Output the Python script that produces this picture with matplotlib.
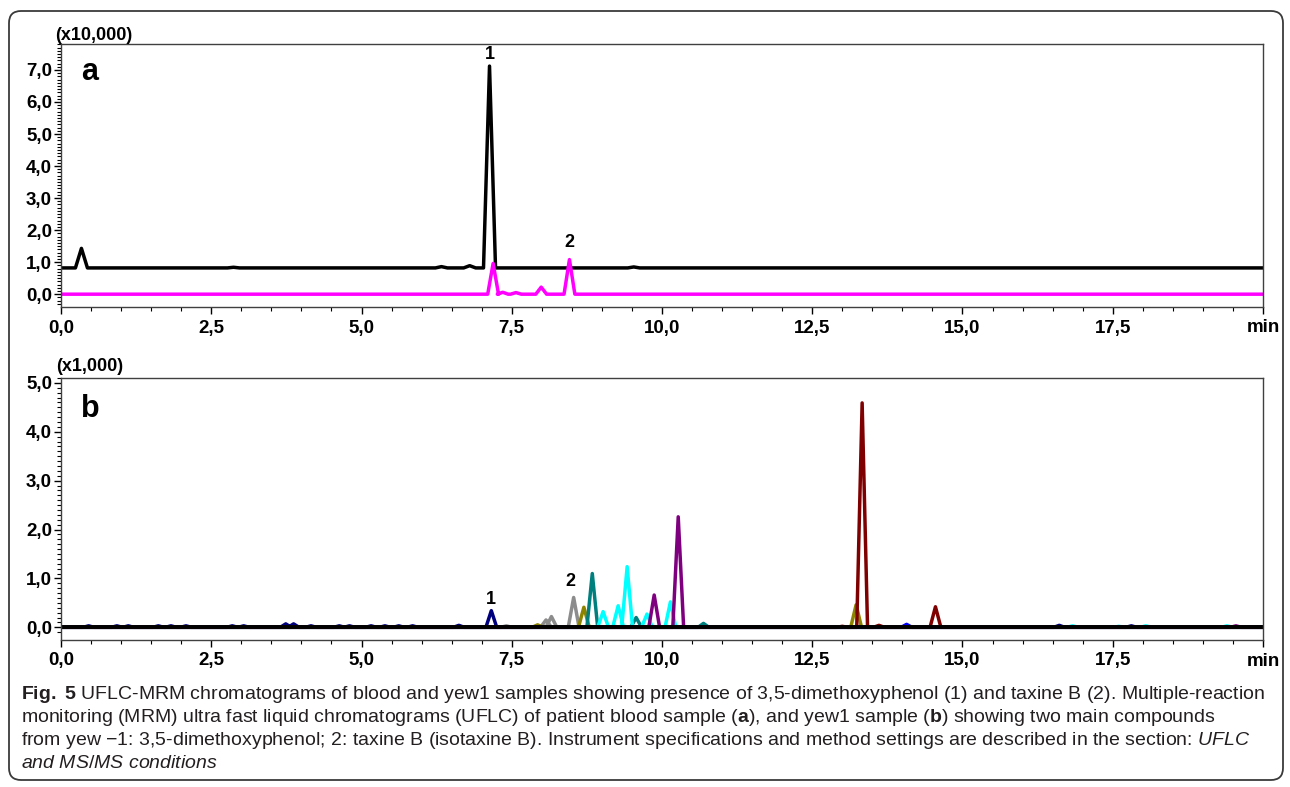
import matplotlib
matplotlib.use("Agg")
import matplotlib.pyplot as plt
from matplotlib import font_manager
from matplotlib.patches import FancyBboxPatch
from matplotlib.transforms import IdentityTransform

# ---- data (retention time in min, apex height) ----
# panel a, blood sample (x10,000)
a_black_base = 0.82
a_black_rt = [0.34, 2.87, 6.33, 6.80, 7.13, 9.53]
a_black_top = [1.43, 0.84, 0.86, 0.89, 7.12, 0.85]
a_mag_base = 0.0
a_mag_rt = [7.19, 7.35, 7.57, 7.99, 8.46]
a_mag_top = [0.96, 0.06, 0.05, 0.22, 1.08]

# panel b, yew1 sample (x1,000)
b_navy_rt = [0.46, 0.93, 1.12, 1.62, 1.83, 2.08, 2.85, 3.04, 3.74, 3.87, 4.16,
             4.63, 4.80, 5.16, 5.39, 5.62, 5.85, 6.62, 7.16, 16.61, 17.81]
b_navy_top = [0.03, 0.03, 0.03, 0.03, 0.03, 0.03, 0.03, 0.03, 0.07, 0.07, 0.03,
              0.03, 0.03, 0.03, 0.03, 0.03, 0.03, 0.04, 0.34, 0.04, 0.03]
b_gray_rt = [7.41, 8.07, 8.16, 8.53]
b_gray_top = [0.03, 0.15, 0.22, 0.61]
b_olive_rt = [7.93, 8.70, 13.23]
b_olive_top = [0.05, 0.41, 0.46]
b_teal_rt = [8.84, 9.57, 10.69]
b_teal_top = [1.10, 0.20, 0.08]
b_cyan_rt = [9.02, 9.27, 9.42, 9.75, 10.14, 16.83, 17.60, 18.05, 19.40]
b_cyan_top = [0.32, 0.44, 1.24, 0.27, 0.52, 0.03, 0.02, 0.03, 0.03]
b_purple_rt = [9.87, 10.27, 19.55]
b_purple_top = [0.66, 2.26, 0.03]
b_maroon_rt = [13.00, 13.33, 13.61, 14.55]
b_maroon_top = [0.02, 4.59, 0.04, 0.42]
b_blue_rt = [14.07]
b_blue_top = [0.06]

x_ticks = [0, 2.5, 5, 7.5, 10, 12.5, 15, 17.5, 20]
x_labels = ['0,0', '2,5', '5,0', '7,5', '10,0', '12,5', '15,0', '17,5', 'min']
a_yticks = [0, 1, 2, 3, 4, 5, 6, 7]
a_ylabels = ['0,0', '1,0', '2,0', '3,0', '4,0', '5,0', '6,0', '7,0']
b_yticks = [0, 1, 2, 3, 4, 5]
b_ylabels = ['0,0', '1,0', '2,0', '3,0', '4,0', '5,0']

caption = [
    r"$\mathbf{Fig.}$ $\mathbf{5}$ UFLC-MRM chromatograms of blood and yew1 samples showing presence of 3,5-dimethoxyphenol (1) and taxine B (2). Multiple-reaction",
    r"monitoring (MRM) ultra fast liquid chromatograms (UFLC) of patient blood sample ($\mathbf{a}$), and yew1 sample ($\mathbf{b}$) showing two main compounds",
    r"from yew −1: 3,5-dimethoxyphenol; 2: taxine B (isotaxine B). Instrument specifications and method settings are described in the section: $\mathit{UFLC}$",
    r"$\mathit{and\ MS/MS\ conditions}$",
]


def trace(rts, tops, base, hw):
    # baseline with a narrow peak at every retention time
    xs, ys = [0.0], [base]
    for t, h in sorted(zip(rts, tops)):
        xs += [t - hw, t, t + hw]
        ys += [base, h, base]
    xs.append(20.0)
    ys.append(base)
    return xs, ys


plt.rcParams['font.family'] = ['Liberation Sans', 'DejaVu Sans']
plt.rcParams['font.weight'] = 'bold'

names = {f.name for f in font_manager.fontManager.ttflist}
cap_font = 'Liberation Sans Narrow' if 'Liberation Sans Narrow' in names else 'Liberation Sans'
plt.rcParams['mathtext.fontset'] = 'custom'
plt.rcParams['mathtext.rm'] = cap_font + ':weight=normal'
plt.rcParams['mathtext.bf'] = cap_font + ':weight=bold'
plt.rcParams['mathtext.it'] = cap_font + ':style=italic:weight=normal'

fig = plt.figure(figsize=(12.9, 7.87), dpi=100)
W, H = 1290, 787

ax_a = fig.add_axes([61 / W, 1 - 307 / H, 1202 / W, 263 / H])
ax_b = fig.add_axes([61 / W, 1 - 640 / H, 1202 / W, 262 / H])

kw = dict(lw=2.5, solid_joinstyle='round')
x, y = trace(a_black_rt, a_black_top, a_black_base, 0.10)
ax_a.plot(x, y, color='black', **kw)
x, y = trace(a_mag_rt, a_mag_top, a_mag_base, 0.09)
ax_a.plot(x, y, color='#ff00ff', **kw)

b_series = [
    (b_navy_rt, b_navy_top, '#00007f'),
    (b_gray_rt, b_gray_top, '#8c8c8c'),
    (b_olive_rt, b_olive_top, '#8c8400'),
    (b_teal_rt, b_teal_top, '#007f7f'),
    (b_cyan_rt, b_cyan_top, '#00ffff'),
    (b_purple_rt, b_purple_top, '#7f007f'),
    (b_blue_rt, b_blue_top, '#0000ff'),
    (b_maroon_rt, b_maroon_top, '#7f0000'),
]
for rts, tops, c in b_series:
    x, y = trace(rts, tops, 0.0, 0.09)
    ax_b.plot(x, y, color=c, **kw)
ax_b.plot([0, 20], [0, 0], color='black', lw=2.8)

for ax, yt, yl, ylim in [(ax_a, a_yticks, a_ylabels, (-0.40, 7.81)),
                         (ax_b, b_yticks, b_ylabels, (-0.26, 5.10))]:
    ax.set_xlim(0, 20)
    ax.set_ylim(*ylim)
    ax.set_xticks(x_ticks)
    ax.set_xticklabels(x_labels)
    ax.set_xticks([i * 0.5 for i in range(41)], minor=True)
    ax.set_yticks(yt)
    ax.set_yticklabels(yl)
    ax.set_yticks([i * 0.1 for i in range(int(ylim[0] * 10) + 1, int(ylim[1] * 10) + 1)], minor=True)
    ax.tick_params(which='major', direction='out', length=5, width=1, labelsize=13.5, pad=1.5)
    ax.tick_params(which='minor', direction='out', length=3, width=0.8)
    ax.tick_params(axis='x', which='major', pad=4)
    for s in ax.spines.values():
        s.set_color('#404040')
        s.set_linewidth(1.0)

ax_a.text(-0.005, 1.034, '(x10,000)', transform=ax_a.transAxes, fontsize=13, va='center', ha='left')
ax_b.text(-0.004, 1.043, '(x1,000)', transform=ax_b.transAxes, fontsize=13, va='center', ha='left')
ax_a.text(0.0166, 0.863, 'a', transform=ax_a.transAxes, fontsize=22, va='baseline', ha='left')
ax_b.text(0.0170, 0.852, 'b', transform=ax_b.transAxes, fontsize=22, va='baseline', ha='left')

ax_a.text(7.13, 7.47, '1', fontsize=13, ha='center', va='center')
ax_a.text(8.46, 1.60, '2', fontsize=13, ha='center', va='center')
ax_b.text(7.16, 0.57, '1', fontsize=13, ha='center', va='center')
ax_b.text(8.47, 0.93, '2', fontsize=13, ha='center', va='center')

for i, line in enumerate(caption):
    fig.text(21 / W, 1 - (699 + 23 * i) / H, line, fontsize=14, family=cap_font,
             fontweight='normal', color='#231f20', va='baseline', ha='left')

fig.add_artist(FancyBboxPatch((9, H - 780), 1274, 769,
                              boxstyle='round,pad=0,rounding_size=12',
                              transform=IdentityTransform(), fill=False,
                              ec='#3a3a3a', lw=1.3))

fig.savefig('out.png', dpi=100)
